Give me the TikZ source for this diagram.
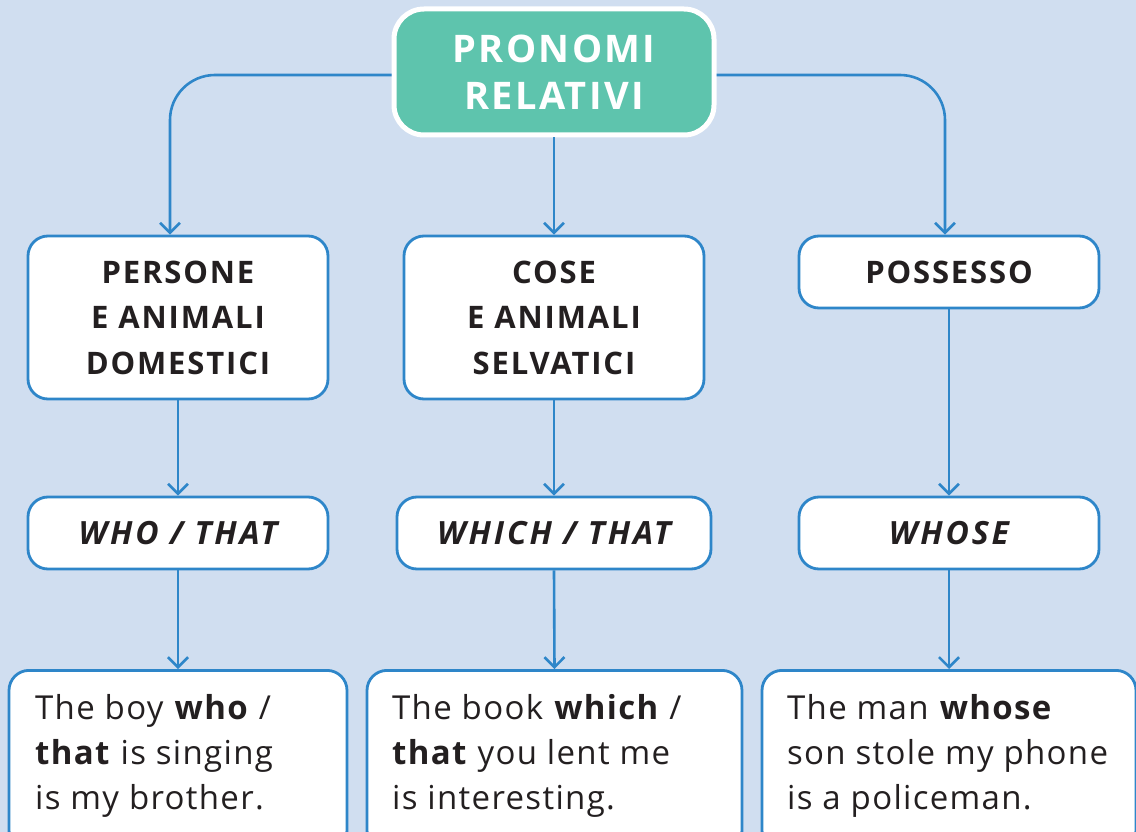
\documentclass[tikz,border=0pt]{standalone}
\usepackage{fontspec}
\setmainfont{Open Sans}
\newfontfamily\headfont[LetterSpace=6]{Open Sans}
\newfontfamily\itfont[LetterSpace=9]{Open Sans}
\newfontfamily\topfont[LetterSpace=6]{Open Sans}
\newfontfamily\bodyfont[LetterSpace=4]{Open Sans}
\usetikzlibrary{arrows.meta}
\definecolor{bg}{HTML}{D0DEF0}
\definecolor{teal}{HTML}{5EC4AD}
\definecolor{lineblue}{HTML}{2E86C9}
\definecolor{ink}{HTML}{231F20}
\tikzset{
  box/.style={draw=lineblue, line width=2.8pt, fill=white, rounded corners=20pt, text=ink, align=center, inner sep=0pt},
  headtxt/.style={font=\headfont\bfseries\fontsize{31}{45.5}\selectfont},
  ittxt/.style={font=\itfont\bfseries\itshape\fontsize{32}{40}\selectfont},
  conn/.style={draw=lineblue, line width=2.6pt, -{Straight Barb[length=10pt,width=20pt,line width=2.6pt]}},
  bodytxt/.style={anchor=north west, inner sep=0pt, align=left, text=ink, font=\bodyfont\fontsize{33}{45}\selectfont},
}
\begin{document}
\begin{tikzpicture}[x=1pt,y=-1pt]
\fill[bg] (0,0) rectangle (1136,832);
\useasboundingbox (0,0) rectangle (1136,832);
\clip (0,0) rectangle (1136,832);

% top node
\node[fill=teal, draw=white, line width=5pt, rounded corners=30pt, minimum width=320pt, minimum height=126pt, text=white, align=center,
  font=\topfont\bfseries\fontsize{38}{47}\selectfont] (top) at (554,72) {PRONOMI\\RELATIVI};

% second row
\node[box, headtxt, minimum width=300pt, minimum height=163pt] (persone) at (178,317.5) {PERSONE\\E ANIMALI\\DOMESTICI};
\node[box, headtxt, minimum width=300pt, minimum height=163pt] (cose) at (554,317.5) {COSE\\E ANIMALI\\SELVATICI};
\node[box, headtxt, minimum width=300pt, minimum height=72pt] (possesso) at (949,272) {POSSESSO};

% third row
\node[box, ittxt, minimum width=300pt, minimum height=72pt] (who) at (178,533) {WHO\hspace{0.35em}/\hspace{0.35em}THAT};
\node[box, ittxt, minimum width=314pt, minimum height=72pt] (which) at (554,533) {WHICH\hspace{0.35em}/\hspace{0.35em}THAT};
\node[box, ittxt, minimum width=300pt, minimum height=72pt] (whose) at (949,533) {WHOSE};

% bottom row
\node[box, minimum width=338pt, minimum height=180pt, anchor=north] (ex1) at (178,669) {};
\node[box, minimum width=375pt, minimum height=180pt, anchor=north] (ex2) at (554.5,669) {};
\node[box, minimum width=374pt, minimum height=180pt, anchor=north] (ex3) at (949,669) {};

\node[bodytxt] (t1) at (35,694) {The boy \textbf{who} /\\\textbf{that} is singing\\is my brother.};
\node[bodytxt] (t2) at (392,694) {The book \textbf{which} /\\\textbf{that} you lent me\\is interesting.};
\node[bodytxt] (t3) at (787,694) {The man \textbf{whose}\\son stole my phone\\is a policeman.};

% connectors
\draw[conn, rounded corners=45pt] ([yshift=-3pt]top.west) -| ([xshift=-8pt]persone.north);
\draw[conn, rounded corners=45pt] ([yshift=-3pt]top.east) -| ([xshift=-4pt]possesso.north);
\draw[conn] (top.south) -- (cose.north);
\draw[conn] (persone.south) -- (who.north);
\draw[conn] (cose.south) -- (which.north);
\draw[conn] (possesso.south) -- (whose.north);
\draw[conn] (who.south) -- (ex1.north);
\draw[conn] (which.south) -- (ex2.north);
\draw[conn] (whose.south) -- (ex3.north);
\end{tikzpicture}
\end{document}
